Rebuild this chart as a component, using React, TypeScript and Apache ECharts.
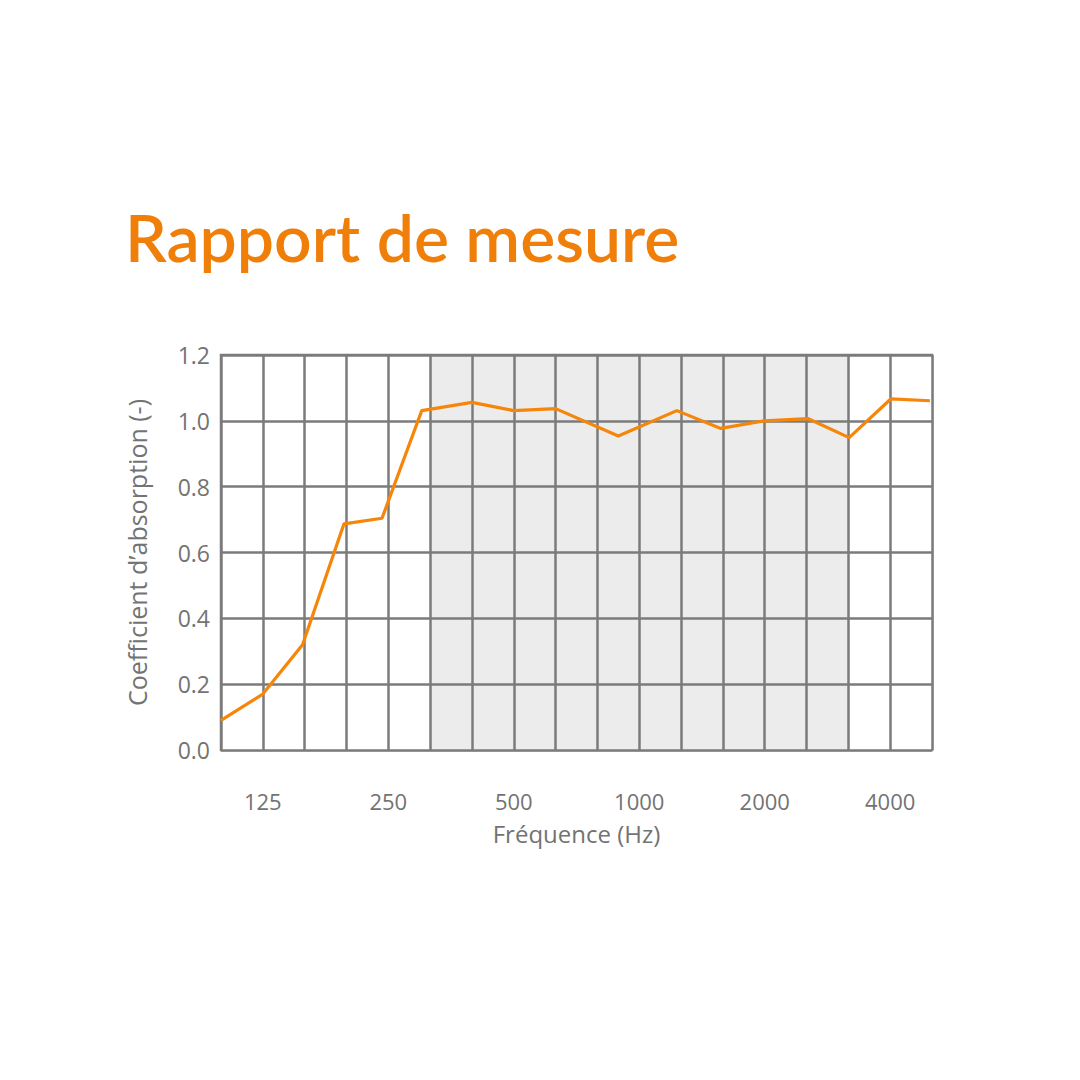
import React, { useEffect, useRef } from 'react';
import * as echarts from 'echarts';

// Tiers d'octave (positions des lignes verticales de la grille)
const bandLabels = ['100', '125', '160', '200', '250', '315', '400', '500', '630', '800', '1000', '1250', '1600', '2000', '2500', '3150', '4000', '5000'];
const shownLabels = ['125', '250', '500', '1000', '2000', '4000'];

// Mesure : position sur l'axe (indice de bande) et coefficient
const measurePos = [0, 1, 1.95, 2.94, 3.85, 4.8, 6, 7, 8, 9.5, 10.9, 11.95, 13, 14.03, 15.02, 16.02, 16.95];
const absorption = [0.09, 0.17, 0.32, 0.687, 0.704, 1.031, 1.056, 1.031, 1.037, 0.954, 1.031, 0.977, 1.0, 1.007, 0.949, 1.067, 1.061];

// Zone grisée (de 400 Hz à 3150 Hz)
const shadedFrom = 5;
const shadedTo = 15;

const ORANGE = '#f5860a';
const GRID = '#7b7b7b';
const TEXT = '#737373';
const FONT = '"Open Sans", Lato, sans-serif';

const App: React.FC = () => {
	const chartRef = useRef<HTMLDivElement>(null);

	useEffect(() => {
		if (!chartRef.current) return;
		document.body.style.margin = '0';
		const chart = echarts.init(chartRef.current, undefined, { renderer: 'svg' });

		const areaColors: string[] = [];
		for (let i = 0; i < bandLabels.length - 1; i++) {
			areaColors.push(i >= shadedFrom && i < shadedTo ? '#ececec' : '#ffffff');
		}

		const option: echarts.EChartsOption = {
			animation: false,
			backgroundColor: '#ffffff',
			title: {
				text: 'Rapport de mesure',
				left: 120,
				top: 198,
				textStyle: {
					color: '#f07f0a',
					fontFamily: 'Lato, sans-serif',
					fontSize: 66,
					fontWeight: 600
				}
			},
			grid: {
				left: 221,
				right: 148,
				top: 355,
				bottom: 330,
				show: true,
				borderColor: GRID,
				borderWidth: 2.5,
				backgroundColor: 'transparent'
			},
			xAxis: {
				type: 'value',
				z: 0,
				min: 0,
				max: bandLabels.length - 1,
				interval: 1,
				name: 'Fréquence (Hz)',
				nameLocation: 'middle',
				nameGap: 71,
				nameTextStyle: {
					color: TEXT,
					fontFamily: FONT,
					fontSize: 24
				},
				axisLine: { show: false },
				axisTick: { show: false },
				axisLabel: {
					color: TEXT,
					fontFamily: FONT,
					fontSize: 22,
					margin: 40,
					showMinLabel: true,
					showMaxLabel: true,
					formatter: (v: number) => {
						const lbl = bandLabels[Math.round(v)];
						return shownLabels.includes(lbl) ? lbl : '';
					}
				},
				splitLine: {
					show: true,
					lineStyle: { color: GRID, width: 2.5 }
				},
				splitArea: {
					show: true,
					areaStyle: { color: areaColors }
				}
			},
			yAxis: {
				type: 'value',
				z: 1,
				min: 0,
				max: 1.2,
				interval: 0.2,
				name: 'Coefficient d’absorption (-)',
				nameLocation: 'middle',
				nameGap: 72,
				nameTextStyle: {
					color: TEXT,
					fontFamily: FONT,
					fontSize: 25
				},
				axisLine: { show: false },
				axisTick: { show: false },
				axisLabel: {
					color: TEXT,
					fontFamily: FONT,
					fontSize: 23,
					margin: 11,
					formatter: (v: number) => v.toFixed(1)
				},
				splitLine: {
					show: true,
					lineStyle: { color: GRID, width: 2.5 }
				}
			},
			series: [
				{
					type: 'line',
					data: measurePos.map((x, i) => [x, absorption[i]]),
					symbol: 'none',
					lineStyle: { color: ORANGE, width: 3.2 },
					z: 5
				}
			]
		};

		chart.setOption(option);

		return () => {
			chart.dispose();
		};
	}, []);

	return <div ref={chartRef} style={{ width: '1080px', height: '1080px' }} />;
};

export default App;
